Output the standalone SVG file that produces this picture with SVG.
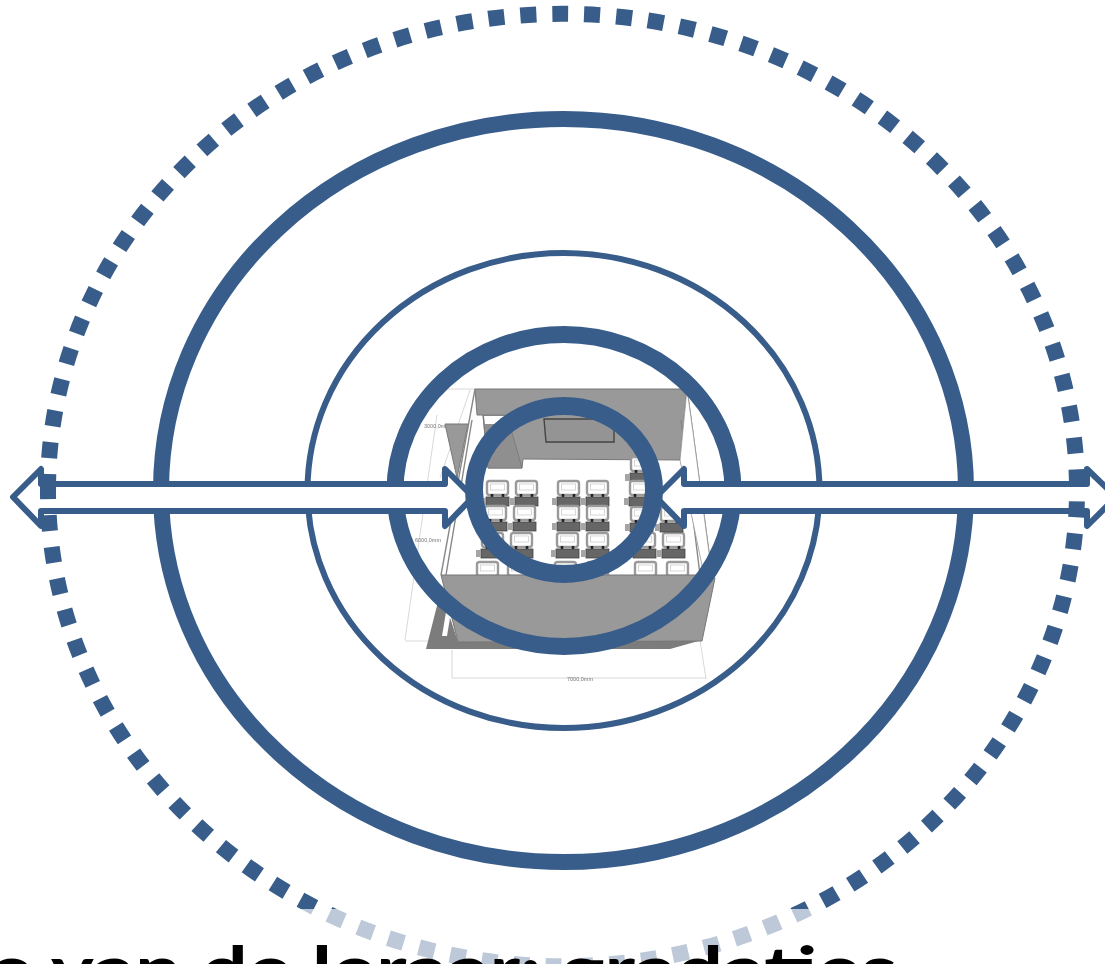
<svg xmlns="http://www.w3.org/2000/svg" xmlns:xlink="http://www.w3.org/1999/xlink" width="1105" height="964" viewBox="0 0 1105 964">
<style>
.ring{fill:none;stroke:#385d8a}
.arrow{fill:#fff;stroke:#385d8a;stroke-width:6;stroke-linejoin:round}
.dim{fill:none;stroke:#d8d8d8;stroke-width:1}
.dimt{font-family:"Liberation Sans",sans-serif;font-size:5.5px;fill:#777}
.wall{fill:#999;stroke:#777;stroke-width:1}
.dark{fill:#7b7b7b}
.title{font-family:Lato,"Liberation Sans",sans-serif;font-weight:700;font-size:64px;fill:#000}
</style>
<defs>
<filter id="soft" x="-5%" y="-5%" width="110%" height="110%"><feGaussianBlur stdDeviation="0.6"/></filter>
<g id="seat">
<rect x="0" y="0" width="21" height="14" rx="2.5" fill="#fff" stroke="#9a9a9a" stroke-width="2.4"/>
<rect x="3.5" y="3" width="14" height="6" fill="#fff" stroke="#ccc" stroke-width=".8"/>
<path d="M5 13V17M16 13V17" stroke="#222" stroke-width="2.6"/>
<rect x="-1" y="16" width="23" height="9" fill="#666" stroke="#444" stroke-width=".8"/>
<rect x="-6" y="17" width="5" height="7" fill="#a5a5a5"/>
</g>
</defs>
<rect width="1105" height="964" fill="#fff"/>
<g id="room" filter="url(#soft)">
<path class="dim" d="M405 640L437 415M405 641H440M445 389H475M452 650V678M700 640L706 679M452 678H706M440 478L470 390"/>
<text class="dimt" x="424" y="428">3000,0mm</text>
<text class="dimt" x="415" y="542">6000,0mm</text>
<text class="dimt" x="567" y="681">7000,0mm</text>
<polygon class="wall" points="445,424 468,424 457,478"/>
<polygon points="441,575 712,575 680,460 484,462" fill="#fff"/>
<polygon class="wall" points="475,389 687,389 680,460 523,459 522,468 488,468 483,415 477,415"/>
<polygon points="483,415 507,415 522,468 488,468" fill="#8f8f8f" stroke="#777" stroke-width=".8"/>
<polygon points="484,416 506,416 508,424 485,424" fill="#fff"/>
<polygon points="544,419 614,419 614,442 546,442" fill="#949494" stroke="#444" stroke-width="1.4"/>
<path d="M475 389L441 575M472 420L446 575M687 389L712 575M681 420L700 575" fill="none" stroke="#888" stroke-width="1.4"/>
<polygon points="687,389 693,432 712,575 704,575 680,460" fill="#fff" stroke="#999" stroke-width=".8"/>
<use xlink:href="#seat" x="487" y="481"/><use xlink:href="#seat" x="516" y="481"/><use xlink:href="#seat" x="558" y="481"/><use xlink:href="#seat" x="587" y="481"/>
<use xlink:href="#seat" x="485" y="506"/><use xlink:href="#seat" x="514" y="506"/><use xlink:href="#seat" x="558" y="506"/><use xlink:href="#seat" x="587" y="506"/>
<use xlink:href="#seat" x="482" y="533"/><use xlink:href="#seat" x="511" y="533"/><use xlink:href="#seat" x="557" y="533"/><use xlink:href="#seat" x="587" y="533"/>
<use xlink:href="#seat" x="477" y="562"/><use xlink:href="#seat" x="508" y="562"/><use xlink:href="#seat" x="555" y="562"/><use xlink:href="#seat" x="587" y="562"/><use xlink:href="#seat" x="635" y="562"/><use xlink:href="#seat" x="667" y="562"/>
<use xlink:href="#seat" x="631" y="457"/><use xlink:href="#seat" x="630" y="481"/><use xlink:href="#seat" x="631" y="507"/><use xlink:href="#seat" x="634" y="533"/><use xlink:href="#seat" x="663" y="533"/><use xlink:href="#seat" x="661" y="507"/>
<polygon class="dark" points="441,590 426,649 670,649 702,640 458,642"/>
<polygon points="446,612 451,612 447,636 442,636" fill="#fff"/>
<polygon class="wall" points="441,575 697,575 715,578 702,641 458,642"/>
</g>
<g id="ring-2"><ellipse class="ring" cx="563.5" cy="490.5" rx="402.5" ry="371.5" stroke-width="16"/></g>
<g id="ring-3"><ellipse class="ring" cx="563.5" cy="490.5" rx="256" ry="237.5" stroke-width="6"/></g>
<g id="ring-4"><ellipse class="ring" cx="564" cy="490.5" rx="169" ry="156" stroke-width="17"/></g>
<g id="connectors">
<path class="arrow" d="M13 497L41 469V484H445V469L473 497L445 526V511H41V526Z"/>
<path class="arrow" d="M656 497L684 469V484H1087V469L1116 497L1087 526V511H684V526Z"/>
</g>
<g id="ring-5"><ellipse class="ring" cx="564" cy="490" rx="90" ry="84" stroke-width="18"/></g>
<g id="ring-1"><path class="ring" d="M48 490A514.5 476 0 1 1 1077 490A514.5 476 0 1 1 48 490Z" stroke-width="16" stroke-dasharray="16 16"/></g>
<rect x="300" y="909" width="520" height="55" fill="#fff" fill-opacity=".67"/>
<text class="title" x="-11" y="992" textLength="908" lengthAdjust="spacingAndGlyphs">e van de leraar: gradaties</text>
</svg>
